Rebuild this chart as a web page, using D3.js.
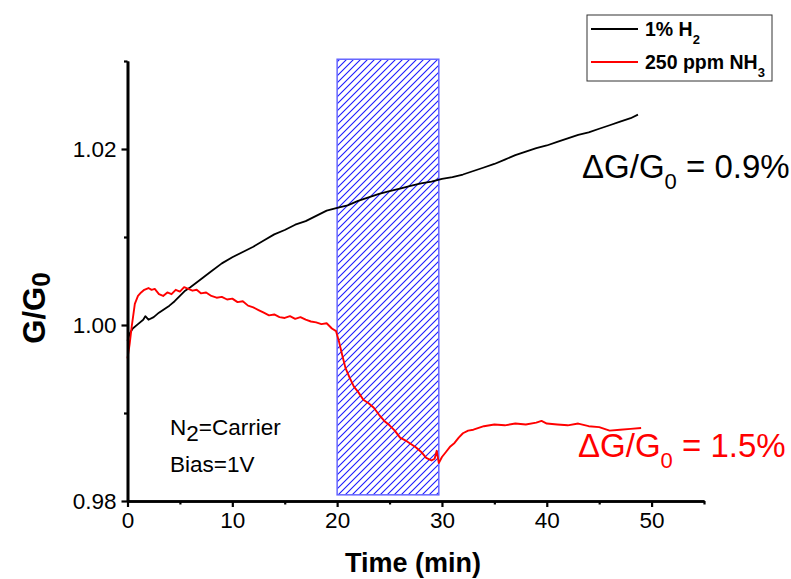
<!DOCTYPE html>
<html><head><meta charset="utf-8">
<script src="https://cdn.jsdelivr.net/npm/d3@7"></script>
<style>
body{margin:0;background:#fff}
text{font-family:Arial,"Liberation Sans",sans-serif}
</style>
</head><body>
<svg id="c" width="791" height="579"></svg>
<script>
// ---- data ----
const seriesNames = ["1% H", "250 ppm NH"];
const seriesSubs = ["2", "3"];
const seriesColors = ["#000000", "#ff0000"];

const h2Time = [0,0.2,0.5,1.0,1.5,1.7,2.0,2.5,3.0,3.5,4.0,4.5,5.0,5.5,6.0,7.0,8.0,9.0,10.0,11.0,12.0,13.0,14.0,15.0,16.0,17.0,18.0,19.0,20.0,21.0,22.0,23.0,24.0,25.0,26.0,27.0,28.0,29.0,30.0,31.0,32.0,33.0,34.0,35.0,36.0,37.0,38.0,39.0,40.0,41.0,42.0,43.0,44.0,45.0,46.0,47.0,48.0,48.7];
const h2Values = [0.9982,0.9990,0.9996,1.0001,1.0006,1.0010,1.0006,1.0009,1.0014,1.0018,1.0022,1.0027,1.0033,1.0039,1.0043,1.0052,1.0061,1.0070,1.0077,1.0083,1.0089,1.0096,1.0103,1.0108,1.0114,1.0118,1.0124,1.0130,1.0133,1.0136,1.0141,1.0145,1.0149,1.0152,1.0155,1.0158,1.0161,1.0163,1.0166,1.0168,1.0171,1.0175,1.0179,1.0183,1.0188,1.0193,1.0197,1.0201,1.0204,1.0208,1.0212,1.0216,1.0219,1.0223,1.0227,1.0231,1.0235,1.0239];

const nh3Time = [0,0.2,0.4,0.7,1.0,1.3,1.6,2.0,2.3,2.6,3.0,3.4,3.8,4.2,4.6,5.0,5.4,5.8,6.2,6.6,7.0,7.5,8.0,8.5,9.0,9.5,10.0,10.5,11.0,11.5,12.0,12.5,13.0,13.5,14.0,14.5,15.0,15.5,16.0,16.5,17.0,17.5,18.0,18.5,19.0,19.5,19.9,20.2,20.5,20.8,21.2,21.6,22.0,22.5,23.0,23.5,24.0,24.5,25.0,25.5,26.0,26.5,27.0,27.5,28.0,28.5,29.0,29.3,29.5,29.7,30.0,30.4,30.8,31.2,31.6,32.0,32.5,33.0,33.5,34.0,35.0,36.0,37.0,38.0,39.0,39.5,40.0,41.0,42.0,43.0,44.0,45.0,46.0,47.0,48.0,49.0];
const nh3Values = [0.9962,0.9978,0.9998,1.0024,1.0033,1.0037,1.0040,1.0042,1.0040,1.0041,1.0035,1.0033,1.0037,1.0035,1.0040,1.0038,1.0043,1.0041,1.0039,1.0040,1.0036,1.0037,1.0033,1.0031,1.0032,1.0029,1.0030,1.0026,1.0027,1.0022,1.0020,1.0017,1.0014,1.0011,1.0012,1.0009,1.0008,1.0010,1.0007,1.0009,1.0006,1.0004,1.0003,1.0001,1.0002,0.9996,0.9993,0.9980,0.9965,0.9951,0.9940,0.9930,0.9924,0.9915,0.9911,0.9906,0.9898,0.9891,0.9886,0.9880,0.9872,0.9869,0.9865,0.9861,0.9856,0.9849,0.9846,0.9848,0.9857,0.9843,0.9850,0.9856,0.9862,0.9866,0.9872,0.9877,0.9880,0.9881,0.9883,0.9885,0.9887,0.9886,0.9888,0.9887,0.9889,0.9891,0.9888,0.9887,0.9886,0.9888,0.9885,0.9884,0.9880,0.9881,0.9882,0.9883];

const exposureStart = 20, exposureEnd = 29.7;
const exposureLow = 0.9807, exposureHigh = 1.0302;

const xMajorTicks = [0,10,20,30,40,50];
const xMinorTicks = [5,15,25,35,45,55];
const yMajorTicks = [0.98,1.00,1.02];
const yMinorTicks = [0.99,1.01,1.03];
const xDomain = [0,55];
const yDomain = [0.98,1.03];

// ---- chart ----
const svg = d3.select("#c");
const x = d3.scaleLinear().domain(xDomain).range([127.5, 704]);
const y = d3.scaleLinear().domain(yDomain).range([501, 61]);

// hatch pattern
const defs = svg.append("defs");
const pat = defs.append("pattern").attr("id","hatch").attr("patternUnits","userSpaceOnUse")
  .attr("width",7).attr("height",7);
pat.append("path").attr("d","M-1,1 l2,-2 M0,7 l7,-7 M6,8 l2,-2")
  .attr("stroke","#1a1aff").attr("stroke-width",1.1);

svg.append("rect")
  .attr("x", x(exposureStart)).attr("y", y(exposureHigh))
  .attr("width", x(exposureEnd)-x(exposureStart))
  .attr("height", y(exposureLow)-y(exposureHigh))
  .attr("fill","url(#hatch)").attr("stroke","#6666ff").attr("stroke-width",1.5);

// lines
const line = d3.line().x(d=>x(d[0])).y(d=>y(d[1]));
const h2Data = h2Time.map((t,i)=>[t,h2Values[i]]);
const nh3Data = nh3Time.map((t,i)=>[t,nh3Values[i]]);
svg.append("path").datum(h2Data).attr("d",line).attr("fill","none")
  .attr("stroke",seriesColors[0]).attr("stroke-width",1.8).attr("stroke-linejoin","round");
svg.append("path").datum(nh3Data).attr("d",line).attr("fill","none")
  .attr("stroke",seriesColors[1]).attr("stroke-width",1.9).attr("stroke-linejoin","round");

// axes
function styleAxis(g){
  g.selectAll(".domain").attr("stroke","#000").attr("stroke-width",2.6);
  g.selectAll(".tick line").attr("stroke","#000").attr("stroke-width",2.2);
  g.selectAll(".tick text").attr("fill","#000").style("font-size","22.5px")
    .style("font-family","Arial, 'Liberation Sans', sans-serif");
}
const xAx = svg.append("g").attr("transform",`translate(0,${y(yDomain[0])})`)
  .call(d3.axisBottom(x).tickValues(xMajorTicks).tickSize(6).tickSizeOuter(0).tickPadding(5).tickFormat(d3.format("d")));
styleAxis(xAx);
const xAxMinor = svg.append("g").attr("transform",`translate(0,${y(yDomain[0])})`)
  .call(d3.axisBottom(x).tickValues(xMinorTicks).tickSize(3.5).tickSizeOuter(0).tickFormat(""));
styleAxis(xAxMinor);
const yAx = svg.append("g").attr("transform",`translate(${x(xDomain[0])},0)`)
  .call(d3.axisLeft(y).tickValues(yMajorTicks).tickSize(6).tickSizeOuter(0).tickPadding(5).tickFormat(d3.format(".2f")));
styleAxis(yAx);
const yAxMinor = svg.append("g").attr("transform",`translate(${x(xDomain[0])},0)`)
  .call(d3.axisLeft(y).tickValues(yMinorTicks).tickSize(3.5).tickSizeOuter(0).tickFormat(""));
styleAxis(yAxMinor);

// axis titles
svg.append("text").attr("x",413).attr("y",572).attr("text-anchor","middle")
  .style("font-size","27px").style("font-weight","bold").text("Time (min)");
const yl = svg.append("text").attr("transform","translate(45,308) rotate(-90)").attr("text-anchor","middle")
  .style("font-size","31px").style("font-weight","bold");
yl.append("tspan").text("G/G");
yl.append("tspan").attr("dy",5).style("font-size","26px").text("0");

// legend
const lg = svg.append("g");
lg.append("rect").attr("x",587).attr("y",15).attr("width",185).attr("height",66)
  .attr("fill","#fff").attr("stroke","#333").attr("stroke-width",1);
const legY = [29, 62];
seriesNames.forEach((n,i)=>{
  lg.append("line").attr("x1",591).attr("x2",638).attr("y1",legY[i]).attr("y2",legY[i])
    .attr("stroke",seriesColors[i]).attr("stroke-width",2);
  const t = lg.append("text").attr("x",645).attr("y",legY[i]+7)
    .style("font-size","19.5px").style("font-weight","bold");
  t.append("tspan").text(n);
  t.append("tspan").attr("dy",8).style("font-size","13px").text(seriesSubs[i]);
});

// annotations
function deltaLabel(xp, yp, color, val){
  const t = svg.append("text").attr("x",xp).attr("y",yp).attr("fill",color).style("font-size","33px");
  t.append("tspan").text("\u0394G/G");
  t.append("tspan").attr("dy",11).style("font-size","22px").text("0");
  t.append("tspan").attr("dy",-11).text(" = " + val);
}
deltaLabel(582, 178, "#000", "0.9%");
deltaLabel(578, 457, "#ff0000", "1.5%");

const n2 = svg.append("text").attr("x",170).attr("y",435).style("font-size","22.5px");
n2.append("tspan").text("N");
n2.append("tspan").attr("dy",6).text("2");
n2.append("tspan").attr("dy",-6).text("=Carrier");
svg.append("text").attr("x",170).attr("y",472).style("font-size","22.5px").text("Bias=1V");
</script>
</body></html>
